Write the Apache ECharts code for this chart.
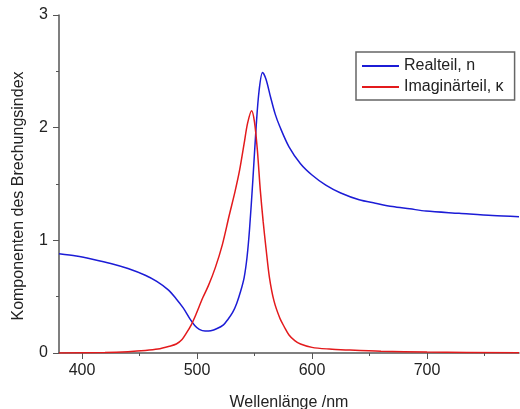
<!DOCTYPE html>
<html>
<head>
<meta charset="utf-8">
<script src="https://cdn.jsdelivr.net/npm/echarts@6/dist/echarts.min.js"></script>
<style>html,body{margin:0;padding:0;background:#fff}#c{width:520px;height:409px}</style>
</head>
<body>
<div id="c"></div>
<script>
// Realteil n
const wlN = [380, 395, 410, 425, 440, 455, 465, 475, 482, 488, 494, 498, 502, 507, 512, 517, 523, 527, 531, 534.5, 538, 541, 543.5, 545.7, 548.6, 551.5, 554, 557, 560, 564, 568, 572, 580, 590, 600, 612, 625, 641, 655, 670, 685, 699, 728, 757, 780];
const valN = [0.88, 0.86, 0.83, 0.795, 0.75, 0.69, 0.635, 0.56, 0.48, 0.40, 0.30, 0.245, 0.21, 0.195, 0.198, 0.215, 0.25, 0.30, 0.36, 0.44, 0.55, 0.67, 0.85, 1.10, 1.54, 2.02, 2.33, 2.49, 2.43, 2.27, 2.12, 2.01, 1.83, 1.68, 1.58, 1.49, 1.42, 1.36, 1.33, 1.30, 1.28, 1.26, 1.24, 1.22, 1.21];
// Imaginärteil kappa
const wlK = [380, 420, 440, 455, 466, 476, 482, 487, 491, 495, 499, 505, 510, 516, 522, 528, 533, 537, 541, 544, 547.5, 550, 552.5, 555, 557.5, 560, 563, 567, 572, 576, 580, 585, 590, 600, 615, 630, 660, 700, 780];
const valK = [0.0, 0.005, 0.012, 0.022, 0.035, 0.06, 0.08, 0.12, 0.18, 0.25, 0.34, 0.49, 0.60, 0.76, 0.96, 1.22, 1.43, 1.62, 1.86, 2.04, 2.15, 2.05, 1.80, 1.45, 1.17, 0.93, 0.67, 0.46, 0.31, 0.23, 0.16, 0.11, 0.08, 0.05, 0.035, 0.027, 0.015, 0.008, 0.003];
const xTicks = [400, 500, 600, 700];
const xMinorTicks = [450, 550, 650, 750];
const seriesNames = ['Realteil, n', 'Imaginärteil, κ'];
const xName = 'Wellenlänge /nm';
const yName = 'Komponenten des Brechungsindex';

const chart = echarts.init(document.getElementById('c'), null, {renderer: 'canvas'});
const font = 'Liberation Sans, Arial, sans-serif';
const axisColor = '#555';
chart.setOption({
  animation: false,
  grid: {left: 59, right: 1, top: 15, bottom: 56, containLabel: false, outerBoundsMode: 'none'},
  legend: {
    orient: 'vertical', left: 356, top: 52,
    padding: [6, 11, 5, 6],
    borderColor: '#666', borderWidth: 1.5,
    itemWidth: 37, itemHeight: 2, itemGap: 5,
    icon: 'rect',
    textStyle: {fontFamily: font, fontSize: 16, color: '#222'},
    data: seriesNames
  },
  xAxis: [{
    type: 'value', min: 380, max: 780,
    name: xName, nameLocation: 'middle', nameGap: 42,
    nameTextStyle: {fontFamily: font, fontSize: 16, color: '#222'},
    axisLine: {lineStyle: {color: axisColor, width: 1.5}},
    axisTick: {show: true, inside: false, length: 6, customValues: xTicks, lineStyle: {color: axisColor}},
    axisLabel: {fontFamily: font, fontSize: 16, color: '#222', margin: 10, customValues: xTicks},
    splitLine: {show: false}
  }, {
    type: 'value', min: 380, max: 780, position: 'bottom', offset: 0,
    axisLine: {show: false},
    axisTick: {show: true, inside: false, length: 3, customValues: xMinorTicks, lineStyle: {color: axisColor}},
    axisLabel: {show: false},
    splitLine: {show: false}
  }],
  yAxis: {
    type: 'value', min: 0, max: 3, interval: 1,
    name: yName, nameLocation: 'middle', nameGap: 32, nameRotate: 90,
    nameTextStyle: {fontFamily: font, fontSize: 16, color: '#222', padding: [0, 24, 0, 0]},
    axisLine: {show: true, lineStyle: {color: axisColor, width: 1.5}},
    axisTick: {show: true, inside: false, length: 6, lineStyle: {color: axisColor}},
    minorTick: {show: true, splitNumber: 2, length: 3, lineStyle: {color: axisColor}},
    axisLabel: {fontFamily: font, fontSize: 16, color: '#222', margin: 11},
    splitLine: {show: false}
  },
  series: [
    {name: seriesNames[0], type: 'line', smooth: 0.3, showSymbol: false, xAxisIndex: 0,
      data: wlN.map((x, i) => [x, valN[i]]),
      lineStyle: {color: '#1c1cd6', width: 1.5}, itemStyle: {color: '#1c1cd6'}},
    {name: seriesNames[1], type: 'line', smooth: 0.3, showSymbol: false, xAxisIndex: 0,
      data: wlK.map((x, i) => [x, valK[i]]),
      lineStyle: {color: '#e31a1c', width: 1.5}, itemStyle: {color: '#e31a1c'}}
  ]
});
</script>
</body>
</html>
